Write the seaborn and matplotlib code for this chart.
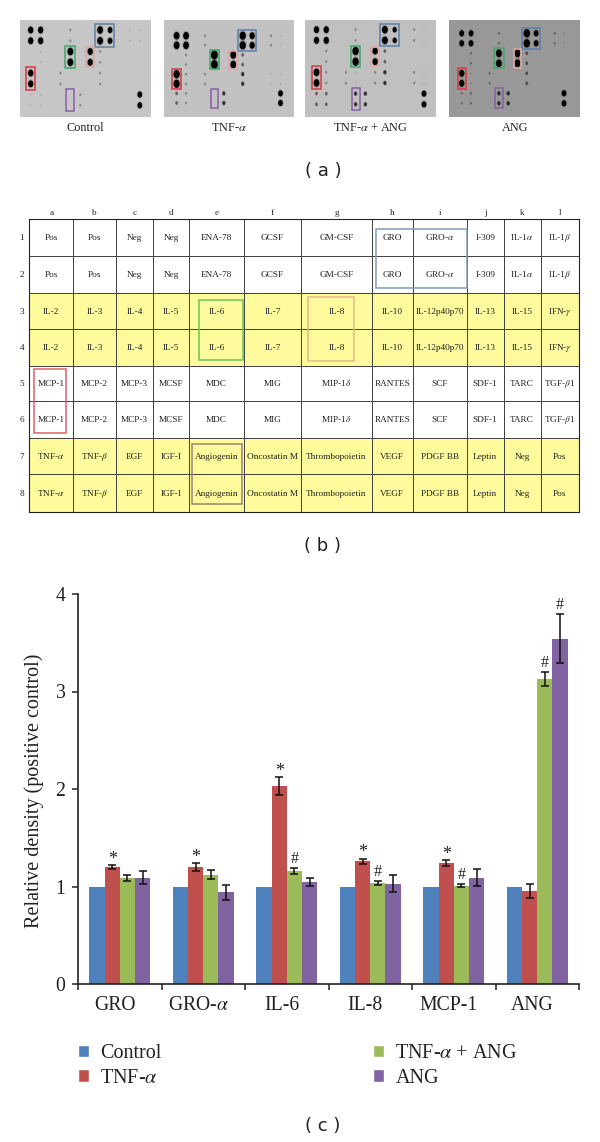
"""
Three panel figure: blot arrays, array map table and bar chart of relative density
"""

import numpy as np
import pandas as pd
import matplotlib
matplotlib.use("Agg")
import matplotlib.pyplot as plt
import seaborn as sns
from matplotlib.colors import ListedColormap
from matplotlib.markers import MarkerStyle
from matplotlib.patches import Patch, Rectangle
from matplotlib.transforms import Affine2D, ScaledTranslation

# Bar chart data
cytokines = ['GRO', 'GRO-$\\alpha$', 'IL-6', 'IL-8', 'MCP-1', 'ANG']
series_names = ['Control', 'TNF-$\\alpha$', 'TNF-$\\alpha$ + ANG', 'ANG']
series_colors = ['#4F81BD', '#C0504D', '#9BBB59', '#8064A2']
control_vals = [1, 1, 1, 1, 1, 1]
tnf_vals = [1.20, 1.20, 2.03, 1.26, 1.24, 0.95]
tnf_ang_vals = [1.09, 1.12, 1.16, 1.035, 1.01, 3.13]
ang_vals = [1.09, 0.94, 1.05, 1.03, 1.09, 3.54]
tnf_err = [0.02, 0.044, 0.09, 0.027, 0.032, 0.073]
tnf_ang_err = [0.03, 0.048, 0.03, 0.02, 0.02, 0.073]
ang_err = [0.067, 0.08, 0.04, 0.09, 0.085, 0.25]
tnf_marks = ['*', '*', '*', '*', '*', '']
tnf_ang_marks = ['', '', '#', '#', '#', '#']
ang_marks = ['', '', '', '', '', '#']

# Array map table
col_letters = list('abcdefghijkl')
row_numbers = ['1', '2', '3', '4', '5', '6', '7', '8']
row_pair_1 = ['Pos', 'Pos', 'Neg', 'Neg', 'ENA-78', 'GCSF', 'GM-CSF', 'GRO', 'GRO-$\\alpha$', 'I-309', 'IL-1$\\alpha$', 'IL-1$\\beta$']
row_pair_2 = ['IL-2', 'IL-3', 'IL-4', 'IL-5', 'IL-6', 'IL-7', 'IL-8', 'IL-10', 'IL-12p40p70', 'IL-13', 'IL-15', 'IFN-$\\gamma$']
row_pair_3 = ['MCP-1', 'MCP-2', 'MCP-3', 'MCSF', 'MDC', 'MIG', 'MIP-1$\\delta$', 'RANTES', 'SCF', 'SDF-1', 'TARC', 'TGF-$\\beta$1']
row_pair_4 = ['TNF-$\\alpha$', 'TNF-$\\beta$', 'EGF', 'IGF-I', 'Angiogenin', 'Oncostatin M', 'Thrombopoietin', 'VEGF', 'PDGF BB', 'Leptin', 'Neg', 'Pos']
row_is_yellow = [0, 0, 1, 1, 0, 0, 1, 1]

# Spot strength on each blot, one line per pair of rows, columns a to l
control_spots = [[8, 8, 0, 0, 2, 0, 0, 9, 7, 0, 1, 1],
                 [0, 1, 0, 0, 9, 0, 8, 2, 0, 0, 0, 0],
                 [8, 0, 0, 2, 0, 0, 0, 2, 0, 0, 0, 0],
                 [1, 1, 0, 0, 0, 2, 0, 0, 0, 0, 0, 7]]
tnf_spots = [[9, 9, 0, 2, 0, 0, 0, 10, 8, 0, 2, 1],
             [0, 2, 0, 0, 11, 0, 9, 3, 0, 0, 0, 0],
             [10, 2, 0, 2, 0, 0, 0, 4, 0, 0, 1, 1],
             [3, 2, 0, 0, 0, 4, 0, 0, 0, 0, 0, 7]]
tnf_ang_spots = [[8, 8, 0, 0, 2, 0, 0, 9, 6, 0, 2, 1],
                 [0, 2, 0, 0, 10, 0, 8, 3, 0, 0, 0, 0],
                 [9, 2, 0, 2, 1, 0, 2, 4, 0, 0, 2, 1],
                 [3, 3, 0, 0, 4, 4, 0, 0, 0, 0, 0, 7]]
ang_spots = [[7, 7, 0, 0, 2, 0, 0, 10, 7, 0, 2, 1],
             [0, 2, 0, 0, 9, 0, 9, 3, 0, 0, 0, 0],
             [8, 1, 0, 2, 0, 0, 0, 3, 0, 0, 0, 0],
             [2, 2, 0, 0, 4, 4, 0, 0, 0, 0, 0, 7]]
blot_names = ['Control', 'TNF-$\\alpha$', 'TNF-$\\alpha$ + ANG', 'ANG']

W, H = 600, 1142

sns.set_theme(style="ticks")
plt.rcParams['font.family'] = ['Liberation Serif', 'DejaVu Serif']
plt.rcParams['mathtext.fontset'] = 'stix'

fig = plt.figure(figsize=(W / 100, H / 100), dpi=100, facecolor='white')


def px_axes(left, top, right, bottom):
    # axes placed in image pixels, y counted from the top
    return fig.add_axes([left / W, 1 - bottom / H, (right - left) / W, (bottom - top) / H])


# (a) blots
blot_panels = [(20, 151, '#c6c6c6', 30.7, 139.8, 30.0, 105.3, 85),
               (163.5, 294, '#c2c2c2', 176.6, 280.5, 35.7, 103.0, 229),
               (305, 435.5, '#c0c0c0', 316.5, 424.0, 29.7, 104.3, 370.5),
               (449, 580, '#989898', 461.7, 564.0, 33.3, 103.3, 515)]
blot_boxes = [('#5f7fa8', 6.5, 8.4, -0.55, 1.55),
              ('#3fa868', 3.5, 4.5, 1.5, 3.5),
              ('#e3a6a0', 5.6, 6.4, 1.6, 3.45),
              ('#d8393f', -0.45, 0.45, 3.45, 5.55),
              ('#8a5fa8', 3.6, 4.4, 5.5, 7.5)]

for spots, name, panel in zip([control_spots, tnf_spots, tnf_ang_spots, ang_spots], blot_names, blot_panels):
    left, right, bg, col_a, col_l, row_1, row_8, label_x = panel
    ax = px_axes(left, 20, right, 117)
    ax.set_facecolor(bg)
    ax.set_xlim(left, right)
    ax.set_ylim(117, 20)
    ax.set_xticks([])
    ax.set_yticks([])
    for spine in ax.spines.values():
        spine.set_visible(False)

    strength = np.repeat(np.array(spots, dtype=float), 2, axis=0)
    xs = np.linspace(col_a, col_l, 12)
    ys = np.linspace(row_1, row_8, 8)
    grid_x, grid_y = np.meshgrid(xs, ys)
    on = strength > 0
    sizes = ((1.2 + 0.62 * strength[on]) * 0.72) ** 2
    alphas = np.clip(0.1 * strength[on] ** 1.4, 0, 1)
    oval = MarkerStyle('o', transform=Affine2D().scale(0.85, 1.12))
    ax.scatter(grid_x[on], grid_y[on], s=sizes * 1.7, c='black', alpha=alphas * 0.18, marker=oval, linewidths=0)
    ax.scatter(grid_x[on], grid_y[on], s=sizes, c='black', alpha=alphas, marker=oval, linewidths=0)

    dx = xs[1] - xs[0]
    dy = ys[1] - ys[0]
    for color, c0, c1, r0, r1 in blot_boxes:
        ax.add_patch(Rectangle((col_a + c0 * dx, row_1 + r0 * dy), (c1 - c0) * dx, (r1 - r0) * dy,
                               fill=False, edgecolor=color, linewidth=1.1))
    fig.text(label_x / W, 1 - 131 / H, name, ha='center', va='baseline', fontsize=8.8, color='#222222')

fig.text(323 / W, 1 - 171 / H, '( a )', ha='center', va='center', fontsize=13,
         family='DejaVu Sans', color='#222222')

# (b) array map
col_edges = [29.3, 73.3, 115.7, 153.3, 189, 244.3, 301, 372, 412.7, 466.7, 503.7, 540.7, 579.3]
row_edges = [219, 255.7, 292.7, 329.3, 366, 400.7, 438.3, 474.3, 512]

ax_t = px_axes(col_edges[0], row_edges[0], col_edges[-1], row_edges[-1])
cell_mask = np.repeat(np.array(row_is_yellow)[:, None], 12, axis=1)
ax_t.pcolormesh(col_edges, row_edges, cell_mask, cmap=ListedColormap(['white', '#FDFB9B']),
                edgecolors='#444444', linewidth=0.45)
ax_t.set_xlim(col_edges[0], col_edges[-1])
ax_t.set_ylim(row_edges[-1], row_edges[0])
ax_t.set_xticks([])
ax_t.set_yticks([])
for spine in ax_t.spines.values():
    spine.set_color('#222222')
    spine.set_linewidth(0.8)

col_mid = [(a + b) / 2 for a, b in zip(col_edges[:-1], col_edges[1:])]
row_mid = [(a + b) / 2 for a, b in zip(row_edges[:-1], row_edges[1:])]
for r, labels in enumerate([row_pair_1, row_pair_1, row_pair_2, row_pair_2,
                            row_pair_3, row_pair_3, row_pair_4, row_pair_4]):
    for c, label in enumerate(labels):
        ax_t.text(col_mid[c], row_mid[r] + 2.5, label, ha='center', va='baseline', fontsize=6.7, color='#222222')
for c, letter in enumerate(col_letters):
    ax_t.text(col_mid[c], 215, letter, ha='center', va='baseline', fontsize=6.7, color='#222222', clip_on=False)
for r, number in enumerate(row_numbers):
    ax_t.text(22, row_mid[r] + 2.5, number, ha='center', va='baseline', fontsize=6.7, color='#222222', clip_on=False)

table_boxes = [('#6cc25f', 198.7, 242.7, 300.3, 360),
               ('#e4b98c', 308, 354, 297, 361),
               ('#7f9bb8', 376, 466.7, 228.7, 288),
               ('#e0606a', 34, 66, 369, 432.7),
               ('#a08070', 192.3, 241.7, 444, 504)]
for color, x0, x1, y0, y1 in table_boxes:
    ax_t.add_patch(Rectangle((x0, y0), x1 - x0, y1 - y0, fill=False, edgecolor=color, linewidth=1.1, zorder=3))

fig.text(323 / W, 1 - 546 / H, '( b )', ha='center', va='center', fontsize=13,
         family='DejaVu Sans', color='#222222')

# (c) bars
df = pd.DataFrame({
    'cytokine': cytokines * 4,
    'series': np.repeat(series_names, 6),
    'density': control_vals + tnf_vals + tnf_ang_vals + ang_vals,
})

ax = px_axes(78, 594, 579, 984)
sns.barplot(data=df, x='cytokine', y='density', hue='series', order=cytokines, hue_order=series_names,
            palette=series_colors, saturation=1, width=0.73, gap=0, errorbar=None, legend=False,
            linewidth=0, ax=ax)

for container, vals, errs, marks in zip(ax.containers[1:],
                                        [tnf_vals, tnf_ang_vals, ang_vals],
                                        [tnf_err, tnf_ang_err, ang_err],
                                        [tnf_marks, tnf_ang_marks, ang_marks]):
    xs = [bar.get_x() + bar.get_width() / 2 for bar in container]
    ax.errorbar(xs, vals, yerr=errs, fmt='none', ecolor='#111111', elinewidth=1.1, capsize=2.6, capthick=1.1)
    for x, v, e, mark in zip(xs, vals, errs, marks):
        if mark == '*':
            ax.annotate(mark, (x, v + e), xytext=(0, 4), textcoords='offset points',
                        ha='center', va='center', fontsize=13, color='#222222')
        elif mark:
            ax.annotate(mark, (x, v + e), xytext=(0, 6.5), textcoords='offset points',
                        ha='center', va='center', fontsize=11.5, color='#222222')

ax.set_xlim(-0.5, 5.5)
ax.set_ylim(0, 4)
ax.set_yticks([0, 1, 2, 3, 4])
ax.set_xlabel('')
ax.set_ylabel('Relative density (positive control)', fontsize=14.5, color='#222222')
ax.yaxis.set_label_coords(-0.068, 0.495)
ax.set_xticks(np.arange(-0.5, 6), minor=True)
ax.tick_params(axis='x', which='major', length=0, pad=9, labelsize=14.2, labelcolor='#222222')
ax.tick_params(axis='x', which='minor', length=4, width=1.1, color='#222222')
ax.tick_params(axis='y', length=4, width=1.1, pad=5, labelsize=14.2, labelcolor='#222222', color='#222222')
for label in ax.get_xticklabels():
    label.set_transform(label.get_transform() + ScaledTranslation(-5 / 100, 0, fig.dpi_scale_trans))
sns.despine(ax=ax)
ax.spines['left'].set_linewidth(1.2)
ax.spines['bottom'].set_linewidth(1.2)
ax.spines['left'].set_color('#222222')
ax.spines['bottom'].set_color('#222222')

handles = [Patch(facecolor=c, label=n) for c, n in zip(series_colors, series_names)]
legend_style = dict(loc='upper left', bbox_transform=fig.transFigure, frameon=False, borderpad=0, borderaxespad=0,
                    fontsize=14.5, handlelength=0.56, handleheight=0.56, handletextpad=0.55,
                    labelspacing=0.28, labelcolor='#222222')
leg_left = ax.legend(handles=handles[:2], bbox_to_anchor=(78 / W, 1 - 1044 / H), **legend_style)
ax.add_artist(leg_left)
ax.legend(handles=handles[2:], bbox_to_anchor=(373 / W, 1 - 1044 / H), **legend_style)

fig.text(323 / W, 1 - 1126 / H, '( c )', ha='center', va='center', fontsize=13,
         family='DejaVu Sans', color='#222222')

fig.savefig('out.png', dpi=100, facecolor='white')
